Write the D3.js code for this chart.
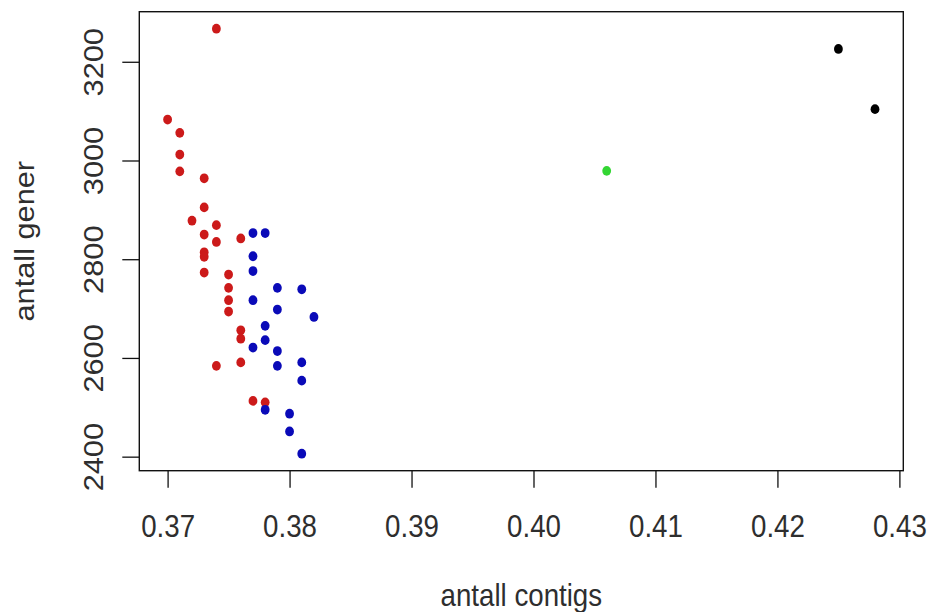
<!DOCTYPE html>
<html>
<head>
<meta charset="utf-8">
<script src="https://cdn.jsdelivr.net/npm/d3@7"></script>
<style>
  body { margin: 0; background: #fff; }
  text { font-family: "Liberation Sans", Arial, sans-serif; fill: #2e2e2e; }
</style>
</head>
<body>
<svg class="contigs-chart"></svg>
<script>
// values
var redX = [0.374, 0.370, 0.371, 0.371, 0.371, 0.373, 0.373, 0.372, 0.374, 0.373, 0.374, 0.376, 0.373,
            0.373, 0.373, 0.375, 0.375, 0.375, 0.375, 0.376, 0.376, 0.374, 0.376, 0.377, 0.378];
var redY = [3267, 3083, 3056, 3012, 2978, 2964, 2905, 2878, 2869, 2850, 2835, 2842, 2814,
            2805, 2773, 2769, 2742, 2717, 2694, 2656, 2639, 2584, 2591, 2513, 2510];
var blueX = [0.377, 0.378, 0.377, 0.377, 0.379, 0.381, 0.377, 0.379, 0.382, 0.378,
             0.378, 0.377, 0.379, 0.379, 0.381, 0.381, 0.378, 0.380, 0.380, 0.381];
var blueY = [2853, 2853, 2806, 2776, 2742, 2739, 2717, 2698, 2683, 2665,
             2636, 2621, 2614, 2584, 2591, 2554, 2495, 2487, 2451, 2406];
var greenX = [0.406];
var greenY = [2979];
var blackX = [0.425, 0.428];
var blackY = [3226, 3104];

var xTicks = [0.37, 0.38, 0.39, 0.40, 0.41, 0.42, 0.43];
var yTicks = [2400, 2600, 2800, 3000, 3200];
var xTitle = "antall contigs";
var yTitle = "antall gener";

var series = [
  {x: redX, y: redY, color: "#cc1a1a"},
  {x: blueX, y: blueY, color: "#0a0ab8"},
  {x: greenX, y: greenY, color: "#33d633"},
  {x: blackX, y: blackY, color: "#000000"}
];

var width = 927, height = 612;
var box = {left: 139.3, right: 903.3, top: 11.7, bottom: 470.7};
var stretch = 1.11; // the picture is a bit taller than wide
var fontSize = 27.7;

// R-style 4% padding around the data range
function padded(values) {
  var ext = d3.extent(values);
  var pad = (ext[1] - ext[0]) * 0.04;
  return [ext[0] - pad, ext[1] + pad];
}

var allX = d3.merge(series.map(function(s) { return s.x; }));
var allY = d3.merge(series.map(function(s) { return s.y; }));

var x = d3.scaleLinear().domain(padded(allX)).range([box.left, box.right]);
var y = d3.scaleLinear().domain(padded(allY)).range([box.bottom, box.top]);

var svg = d3.select(".contigs-chart")
  .attr("width", width)
  .attr("height", height);

var xAxis = d3.axisBottom(x).tickValues(xTicks).tickSize(17).tickFormat(d3.format(".2f"));
var yAxis = d3.axisLeft(y).tickValues(yTicks).tickSize(17).tickFormat(d3.format("d"));

var gx = svg.append("g")
  .attr("transform", "translate(0," + box.bottom + ")")
  .call(xAxis);

gx.select(".domain").remove();
gx.selectAll(".tick line").attr("stroke", "#111").attr("stroke-width", 1.3);
gx.selectAll(".tick text")
  .attr("y", 0)
  .attr("dy", 0)
  .attr("transform", "translate(0,66.3) scale(1," + stretch + ")")
  .style("font-size", fontSize + "px")
  .style("font-family", "Liberation Sans, Arial, sans-serif")
  .attr("fill", "#2e2e2e");

var gy = svg.append("g")
  .attr("transform", "translate(" + box.left + ",0)")
  .call(yAxis);

gy.select(".domain").remove();
gy.selectAll(".tick line").attr("stroke", "#111").attr("stroke-width", 1.3);
gy.selectAll(".tick text")
  .attr("x", 0)
  .attr("dy", 0)
  .attr("text-anchor", "middle")
  .attr("transform", "translate(-36.3,0) scale(1," + stretch + ") rotate(-90)")
  .style("font-size", fontSize + "px")
  .style("font-family", "Liberation Sans, Arial, sans-serif")
  .attr("fill", "#2e2e2e");

svg.append("rect")
  .attr("x", box.left)
  .attr("y", box.top)
  .attr("width", box.right - box.left)
  .attr("height", box.bottom - box.top)
  .attr("fill", "none")
  .attr("stroke", "#111")
  .attr("stroke-width", 1.4);

series.forEach(function(s) {
  svg.append("g")
    .selectAll("ellipse")
    .data(d3.range(s.x.length))
    .enter().append("ellipse")
    .attr("cx", function(i) { return x(s.x[i]); })
    .attr("cy", function(i) { return y(s.y[i]); })
    .attr("rx", 4.4)
    .attr("ry", 4.4 * stretch)
    .attr("fill", s.color);
});

svg.append("text")
  .attr("text-anchor", "middle")
  .attr("transform", "translate(" + ((box.left + box.right) / 2) + ",606) scale(1," + stretch + ")")
  .style("font-size", fontSize + "px")
  .text(xTitle);

svg.append("text")
  .attr("text-anchor", "middle")
  .attr("transform", "translate(34," + ((box.top + box.bottom) / 2) + ") scale(1," + stretch + ") rotate(-90)")
  .style("font-size", fontSize + "px")
  .text(yTitle);
</script>
</body>
</html>
